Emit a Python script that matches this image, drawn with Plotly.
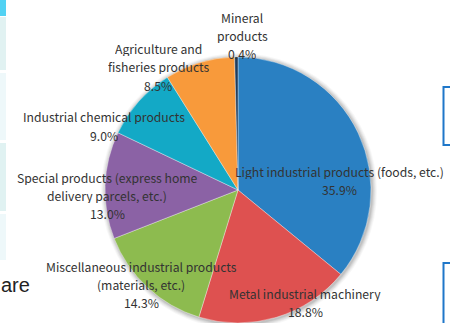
import plotly.graph_objects as go

# Freight composition by item (share of total, %)
categories = [
    "Light industrial products (foods, etc.)",
    "Metal industrial machinery",
    "Miscellaneous industrial products<br>(materials, etc.)",
    "Special products (express home<br>delivery parcels, etc.)",
    "Industrial chemical products",
    "Agriculture and<br>fisheries products",
    "Mineral<br>products",
]
shares = [35.9, 18.8, 14.3, 13.0, 9.0, 8.5, 0.4]
colors = ["#2a80c2", "#de5150", "#8dbb4f", "#8b62a5", "#13a9c6", "#f89a3b", "#1e3d5e"]

# label block centres in pixels (x, y from top)
label_pos = [(339, 180), (305, 302), (141, 284), (107, 195), (104, 126), (158, 67), (242, 35)]

W, H = 450, 323
cx, cy, r = 238, 190, 133  # pie centre / radius in pixels
LINE = 18                  # label line spacing, px


def px(x):
    return x / W


def py(y):
    return (H - y) / H


fig = go.Figure(
    go.Pie(
        labels=[c.replace("<br>", " ") for c in categories],
        values=shares,
        sort=False,
        direction="clockwise",
        rotation=0,
        marker=dict(colors=colors, line=dict(color="rgba(255,255,255,0.6)", width=0.6)),
        textinfo="none",
        hoverinfo="label+percent",
        showlegend=False,
        domain=dict(x=[px(cx - r), px(cx + r)], y=[py(cy + r), py(cy - r)]),
    )
)

annotations = []
for name, val, (lx, ly) in zip(categories, shares, label_pos):
    lines = name.split("<br>") + [f"{val:.1f}%"]
    n = len(lines)
    for i, line in enumerate(lines):
        annotations.append(
            dict(
                x=px(lx), y=py(ly + (i - (n - 1) / 2) * LINE),
                xref="paper", yref="paper",
                text=line, showarrow=False, borderpad=0, height=15,
                xanchor="center", yanchor="middle",
                font=dict(family="Noto Sans CJK JP", size=12.2, color="#333333"),
            )
        )

# page text next to the chart
annotations.append(
    dict(
        x=px(-1), y=py(285), xref="paper", yref="paper", text="are",
        showarrow=False, xanchor="left", yanchor="middle",
        font=dict(family="Liberation Sans", size=20, color="#222222"),
    )
)

shapes = []
# soft drop shadow behind the pie
for grow, op in [(5, 0.03), (4, 0.04), (3, 0.05), (2, 0.06), (1, 0.08)]:
    shapes.append(
        dict(
            type="circle", xref="paper", yref="paper", layer="below",
            x0=px(cx - r - grow + 1), x1=px(cx + r + grow + 1),
            y0=py(cy + r + grow + 1), y1=py(cy - r - grow + 1),
            fillcolor=f"rgba(0,0,0,{op})", line=dict(width=0),
        )
    )

# side panels of the page
for y0, y1, c in [(0, 16, "#52d2f3"), (17, 70, "#e1f2f2"), (73, 140, "#eef8fa"),
                  (143, 211, "#e0f2f2"), (214, 260, "#eef8fa")]:
    shapes.append(
        dict(type="rect", xref="paper", yref="paper", layer="below",
             x0=px(0), x1=px(6), y0=py(y1), y1=py(y0),
             fillcolor=c, line=dict(width=0))
    )
for y0, y1 in [(87, 145), (263, 335)]:
    shapes.append(
        dict(type="rect", xref="paper", yref="paper", layer="below",
             x0=px(443.5), x1=px(460), y0=py(y1), y1=py(y0),
             fillcolor="rgba(0,0,0,0)", line=dict(color="#1f77c9", width=2))
    )

fig.update_layout(
    width=W, height=H,
    margin=dict(l=0, r=0, t=0, b=0),
    paper_bgcolor="white", plot_bgcolor="white",
    annotations=annotations, shapes=shapes,
)

fig.write_html("out.html")
